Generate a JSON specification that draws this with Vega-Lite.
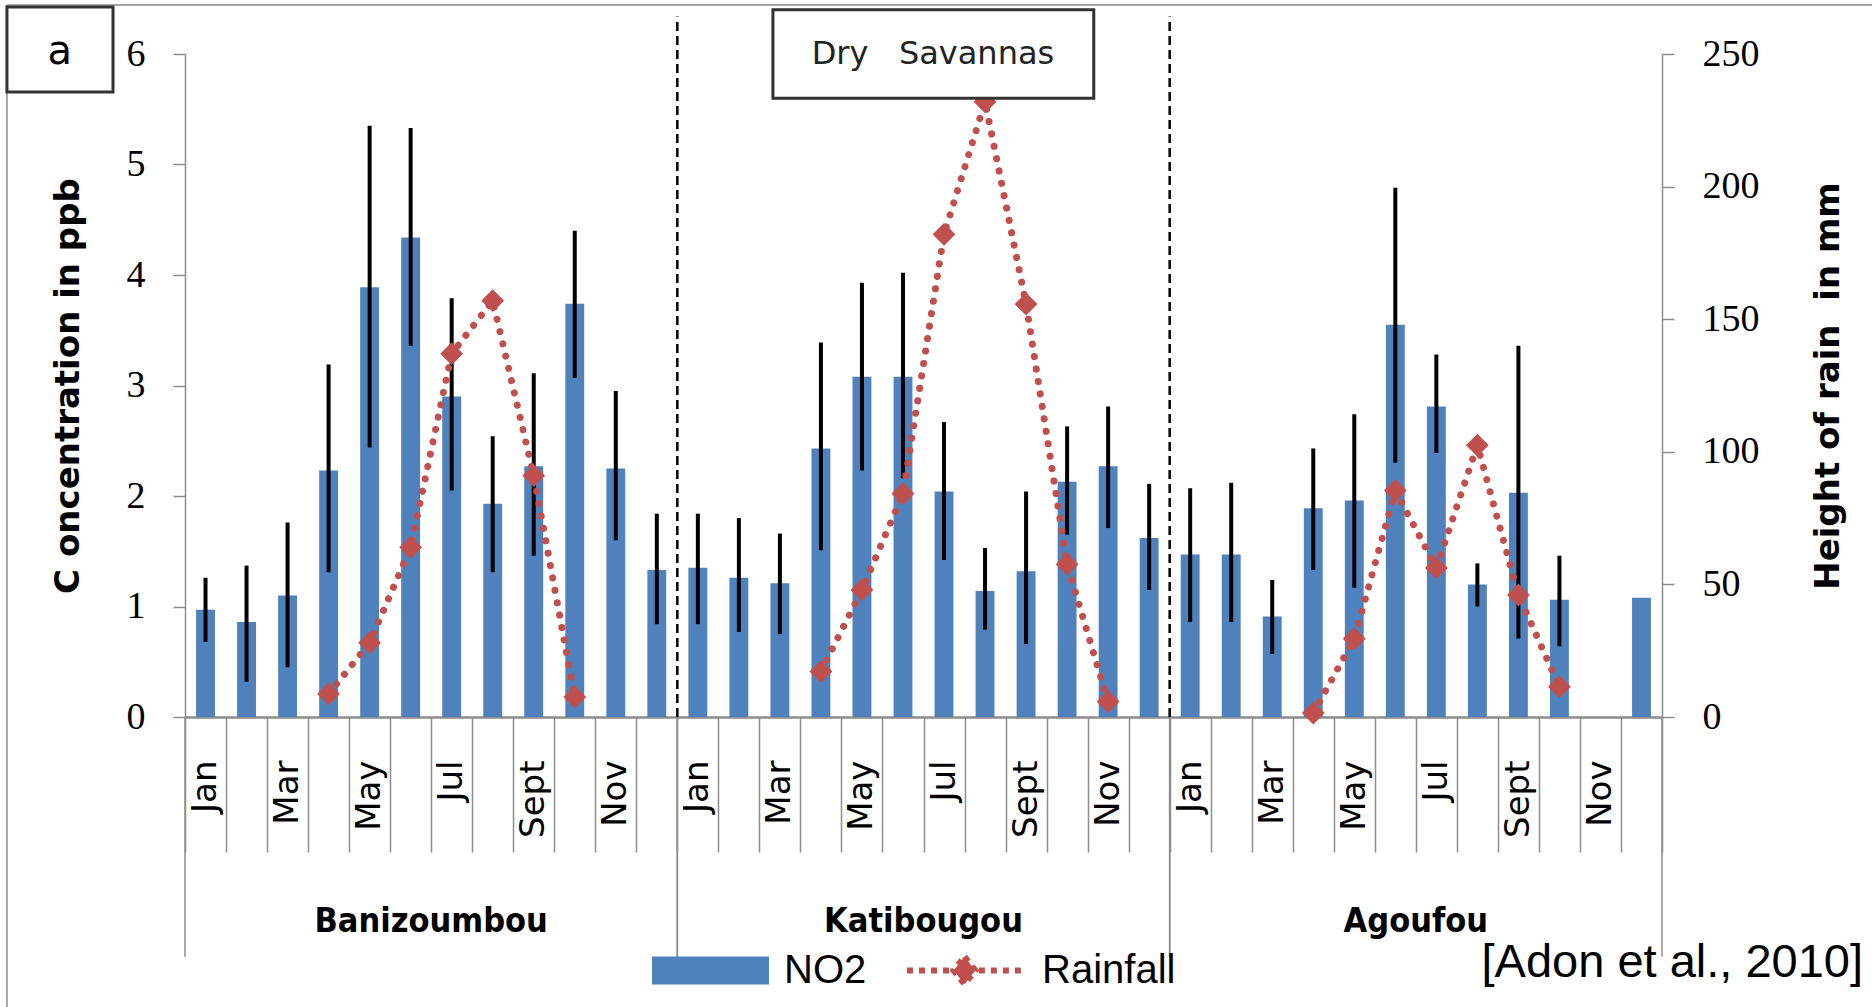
{
  "$schema": "https://vega.github.io/schema/vega-lite/v6.json",
  "width": 1477,
  "height": 663,
  "autosize": {"type": "none"},
  "padding": {"left": 185, "right": 210, "top": 54, "bottom": 290},
  "background": "white",
  "config": {"view": {"stroke": null}, "axis": {"grid": false}},
  "datasets": {
    "obs": [
      {"site": "Banizoumbou", "month": "Jan", "id": "Banizoumbou|Jan", "no2": 0.97, "lo": 0.68, "hi": 1.26, "rain": null},
      {"site": "Banizoumbou", "month": "Feb", "id": "Banizoumbou|Feb", "no2": 0.86, "lo": 0.32, "hi": 1.37, "rain": null},
      {"site": "Banizoumbou", "month": "Mar", "id": "Banizoumbou|Mar", "no2": 1.10, "lo": 0.45, "hi": 1.76, "rain": null},
      {"site": "Banizoumbou", "month": "Apr", "id": "Banizoumbou|Apr", "no2": 2.23, "lo": 1.31, "hi": 3.19, "rain": 8.7},
      {"site": "Banizoumbou", "month": "May", "id": "Banizoumbou|May", "no2": 3.89, "lo": 2.44, "hi": 5.35, "rain": 28},
      {"site": "Banizoumbou", "month": "Jun", "id": "Banizoumbou|Jun", "no2": 4.34, "lo": 3.36, "hi": 5.33, "rain": 64},
      {"site": "Banizoumbou", "month": "Jul", "id": "Banizoumbou|Jul", "no2": 2.90, "lo": 2.05, "hi": 3.79, "rain": 137},
      {"site": "Banizoumbou", "month": "Aug", "id": "Banizoumbou|Aug", "no2": 1.93, "lo": 1.31, "hi": 2.54, "rain": 157},
      {"site": "Banizoumbou", "month": "Sept", "id": "Banizoumbou|Sept", "no2": 2.27, "lo": 1.46, "hi": 3.11, "rain": 91},
      {"site": "Banizoumbou", "month": "Oct", "id": "Banizoumbou|Oct", "no2": 3.74, "lo": 3.07, "hi": 4.40, "rain": 7.5},
      {"site": "Banizoumbou", "month": "Nov", "id": "Banizoumbou|Nov", "no2": 2.25, "lo": 1.60, "hi": 2.95, "rain": null},
      {"site": "Banizoumbou", "month": "Dec", "id": "Banizoumbou|Dec", "no2": 1.33, "lo": 0.84, "hi": 1.84, "rain": null},
      {"site": "Katibougou", "month": "Jan", "id": "Katibougou|Jan", "no2": 1.35, "lo": 0.84, "hi": 1.84, "rain": null},
      {"site": "Katibougou", "month": "Feb", "id": "Katibougou|Feb", "no2": 1.26, "lo": 0.77, "hi": 1.80, "rain": null},
      {"site": "Katibougou", "month": "Mar", "id": "Katibougou|Mar", "no2": 1.21, "lo": 0.75, "hi": 1.66, "rain": null},
      {"site": "Katibougou", "month": "Apr", "id": "Katibougou|Apr", "no2": 2.43, "lo": 1.51, "hi": 3.39, "rain": 17.2},
      {"site": "Katibougou", "month": "May", "id": "Katibougou|May", "no2": 3.08, "lo": 2.23, "hi": 3.93, "rain": 47.9},
      {"site": "Katibougou", "month": "Jun", "id": "Katibougou|Jun", "no2": 3.08, "lo": 2.16, "hi": 4.02, "rain": 84.2},
      {"site": "Katibougou", "month": "Jul", "id": "Katibougou|Jul", "no2": 2.04, "lo": 1.42, "hi": 2.67, "rain": 182},
      {"site": "Katibougou", "month": "Aug", "id": "Katibougou|Aug", "no2": 1.14, "lo": 0.79, "hi": 1.53, "rain": 232},
      {"site": "Katibougou", "month": "Sept", "id": "Katibougou|Sept", "no2": 1.32, "lo": 0.66, "hi": 2.04, "rain": 155.7},
      {"site": "Katibougou", "month": "Oct", "id": "Katibougou|Oct", "no2": 2.13, "lo": 1.65, "hi": 2.63, "rain": 57.6},
      {"site": "Katibougou", "month": "Nov", "id": "Katibougou|Nov", "no2": 2.27, "lo": 1.71, "hi": 2.81, "rain": 5.8},
      {"site": "Katibougou", "month": "Dec", "id": "Katibougou|Dec", "no2": 1.62, "lo": 1.15, "hi": 2.11, "rain": null},
      {"site": "Agoufou", "month": "Jan", "id": "Agoufou|Jan", "no2": 1.47, "lo": 0.86, "hi": 2.07, "rain": null},
      {"site": "Agoufou", "month": "Feb", "id": "Agoufou|Feb", "no2": 1.47, "lo": 0.86, "hi": 2.12, "rain": null},
      {"site": "Agoufou", "month": "Mar", "id": "Agoufou|Mar", "no2": 0.91, "lo": 0.57, "hi": 1.24, "rain": null},
      {"site": "Agoufou", "month": "Apr", "id": "Agoufou|Apr", "no2": 1.89, "lo": 1.33, "hi": 2.43, "rain": 1.5},
      {"site": "Agoufou", "month": "May", "id": "Agoufou|May", "no2": 1.96, "lo": 1.17, "hi": 2.74, "rain": 29.5},
      {"site": "Agoufou", "month": "Jun", "id": "Agoufou|Jun", "no2": 3.55, "lo": 2.30, "hi": 4.79, "rain": 85.4},
      {"site": "Agoufou", "month": "Jul", "id": "Agoufou|Jul", "no2": 2.81, "lo": 2.39, "hi": 3.28, "rain": 56.2},
      {"site": "Agoufou", "month": "Aug", "id": "Agoufou|Aug", "no2": 1.20, "lo": 1.00, "hi": 1.39, "rain": 102.5},
      {"site": "Agoufou", "month": "Sept", "id": "Agoufou|Sept", "no2": 2.03, "lo": 0.71, "hi": 3.36, "rain": 46},
      {"site": "Agoufou", "month": "Oct", "id": "Agoufou|Oct", "no2": 1.06, "lo": 0.64, "hi": 1.46, "rain": 11.4},
      {"site": "Agoufou", "month": "Nov", "id": "Agoufou|Nov", "no2": null, "lo": null, "hi": null, "rain": null},
      {"site": "Agoufou", "month": "Dec", "id": "Agoufou|Dec", "no2": 1.08, "lo": null, "hi": null, "rain": null}
    ]
  },
  "layer": [
    {
      "data": {"name": "obs"},
      "layer": [
        {
          "mark": {"type": "bar", "width": {"band": 0.46}},
          "encoding": {
            "x": {
              "field": "id", "type": "nominal", "sort": null,
              "scale": {
                "domain": ["Banizoumbou|Jan","Banizoumbou|Feb","Banizoumbou|Mar","Banizoumbou|Apr","Banizoumbou|May","Banizoumbou|Jun","Banizoumbou|Jul","Banizoumbou|Aug","Banizoumbou|Sept","Banizoumbou|Oct","Banizoumbou|Nov","Banizoumbou|Dec",
                           "Katibougou|Jan","Katibougou|Feb","Katibougou|Mar","Katibougou|Apr","Katibougou|May","Katibougou|Jun","Katibougou|Jul","Katibougou|Aug","Katibougou|Sept","Katibougou|Oct","Katibougou|Nov","Katibougou|Dec",
                           "Agoufou|Jan","Agoufou|Feb","Agoufou|Mar","Agoufou|Apr","Agoufou|May","Agoufou|Jun","Agoufou|Jul","Agoufou|Aug","Agoufou|Sept","Agoufou|Oct","Agoufou|Nov","Agoufou|Dec"],
                "paddingInner": 0, "paddingOuter": 0
              },
              "axis": {
                "orient": "bottom",
                "title": null,
                "labelExpr": "indexof(['Jan','Mar','May','Jul','Sept','Nov'], split(datum.value,'|')[1]) >= 0 ? split(datum.value,'|')[1] : ''",
                "labelAngle": 270,
                "labelAlign": "right",
                "labelBaseline": "middle",
                "labelFont": "DejaVu Sans",
                "labelFontSize": 34,
                "labelColor": "black",
                "labelOverlap": false,
                "labelPadding": -92,
                "tickBand": "extent",
                "tickSize": 135,
                "tickColor": "#8c8c8c",
                "tickWidth": 1.5,
                "domainColor": "#8c8c8c",
                "domainWidth": 2.5
              }
            },
            "y": {
              "field": "no2", "type": "quantitative",
              "scale": {"domain": [0, 6], "nice": false},
              "axis": {
                "orient": "left",
                "title": "C oncentration in ppb",
                "titleFont": "DejaVu Sans",
                "titleFontWeight": "bold",
                "titleFontSize": 34,
                "titleColor": "black",
                "titleX": -117,
                "titleBaseline": "middle",
                "values": [0, 1, 2, 3, 4, 5, 6],
                "format": "d",
                "labelFont": "Liberation Serif",
                "labelFontSize": 38,
                "labelColor": "black",
                "labelPadding": 28,
                "tickSize": 12,
                "tickColor": "#8c8c8c",
                "tickWidth": 1.5,
                "domainColor": "#8c8c8c",
                "domainWidth": 1.5
              }
            },
            "fill": {
              "datum": "NO2",
              "scale": {"range": ["#4F81BD"]},
              "legend": {
                "orient": "none",
                "legendX": 467,
                "legendY": 858,
                "title": null,
                "padding": 0,
                "symbolType": "M-1,-0.24L1,-0.24L1,0.24L-1,0.24Z",
                "symbolSize": 13689,
                "symbolStrokeWidth": 0,
                "labelFont": "Liberation Sans",
                "labelFontSize": 40,
                "labelColor": "black",
                "labelOffset": 15
              }
            }
          }
        },
        {
          "mark": {"type": "rule", "color": "black", "strokeWidth": 4},
          "encoding": {
            "x": {"field": "id", "type": "nominal", "sort": null},
            "y": {"field": "lo", "type": "quantitative"},
            "y2": {"field": "hi"}
          }
        },
        {
          "transform": [{"filter": "datum.month == 'Jan' && datum.site != 'Banizoumbou'"}],
          "mark": {"type": "rule", "color": "black", "strokeWidth": 2.5, "strokeDash": [9, 5]},
          "encoding": {
            "x": {"field": "id", "type": "nominal", "sort": null, "bandPosition": 0},
            "y": {"datum": 0},
            "y2": {"datum": 6.34}
          }
        },
        {
          "transform": [{"filter": "datum.month == 'Jan'"}],
          "mark": {"type": "rule", "color": "#8c8c8c", "strokeWidth": 1.5},
          "encoding": {
            "x": {"field": "id", "type": "nominal", "sort": null, "bandPosition": 0},
            "y": {"datum": 0},
            "y2": {"datum": -2.17}
          }
        },
        {
          "transform": [{"filter": "datum.month == 'Dec'"}],
          "mark": {"type": "rule", "color": "#8c8c8c", "strokeWidth": 1.5},
          "encoding": {
            "x": {"field": "id", "type": "nominal", "sort": null, "bandPosition": 1},
            "y": {"datum": 0},
            "y2": {"datum": -2.17}
          }
        },
        {
          "transform": [{"filter": "datum.month == 'Jun'"}],
          "mark": {"type": "text", "font": "DejaVu Sans Condensed", "fontWeight": "bold", "fontSize": 34, "baseline": "alphabetic", "align": "center", "color": "black"},
          "encoding": {
            "x": {"field": "id", "type": "nominal", "sort": null, "bandPosition": 1},
            "y": {"datum": -1.946},
            "text": {"field": "site"}
          }
        }
      ]
    },
    {
      "data": {"name": "obs"},
      "layer": [
        {
          "mark": {"type": "line", "strokeWidth": 7, "strokeDash": [0.1, 12.5], "strokeCap": "round"},
          "encoding": {
            "x": {
              "field": "id", "type": "nominal", "sort": null,
              "scale": {
                "domain": ["Banizoumbou|Jan","Banizoumbou|Feb","Banizoumbou|Mar","Banizoumbou|Apr","Banizoumbou|May","Banizoumbou|Jun","Banizoumbou|Jul","Banizoumbou|Aug","Banizoumbou|Sept","Banizoumbou|Oct","Banizoumbou|Nov","Banizoumbou|Dec",
                           "Katibougou|Jan","Katibougou|Feb","Katibougou|Mar","Katibougou|Apr","Katibougou|May","Katibougou|Jun","Katibougou|Jul","Katibougou|Aug","Katibougou|Sept","Katibougou|Oct","Katibougou|Nov","Katibougou|Dec",
                           "Agoufou|Jan","Agoufou|Feb","Agoufou|Mar","Agoufou|Apr","Agoufou|May","Agoufou|Jun","Agoufou|Jul","Agoufou|Aug","Agoufou|Sept","Agoufou|Oct","Agoufou|Nov","Agoufou|Dec"],
                "paddingInner": 0, "paddingOuter": 0
              },
              "axis": null
            },
            "y": {
              "field": "rain", "type": "quantitative",
              "scale": {"domain": [0, 250], "nice": false},
              "axis": {
                "orient": "right",
                "title": "Height of rain\u00a0 in mm",
                "titleFont": "DejaVu Sans",
                "titleFontWeight": "bold",
                "titleFontSize": 34,
                "titleColor": "black",
                "titleAngle": 270,
                "titleX": 166,
                "titleBaseline": "middle",
                "values": [0, 50, 100, 150, 200, 250],
                "format": "d",
                "labelFont": "Liberation Serif",
                "labelFontSize": 38,
                "labelColor": "black",
                "labelPadding": 28,
                "tickSize": 12,
                "tickColor": "#8c8c8c",
                "tickWidth": 1.5,
                "domainColor": "#8c8c8c",
                "domainWidth": 1.5
              }
            },
            "detail": {"field": "site"},
            "stroke": {
              "datum": "Rainfall",
              "scale": {"range": ["#C0504D"]},
              "legend": {
                "orient": "none",
                "legendX": 719,
                "legendY": 856,
                "title": null,
                "padding": 0,
                "symbolType": "M-1,0L-0.25,0M0.25,0L1,0M0,-0.24L0.19,0L0,0.24L-0.19,0Z",
                "symbolSize": 13225,
                "symbolStrokeWidth": 6,
                "symbolDash": [6, 6],
                "symbolFillColor": "#C0504D",
                "labelFont": "Liberation Sans",
                "labelFontSize": 40,
                "labelColor": "black",
                "labelOffset": 17
              }
            }
          }
        },
        {
          "mark": {"type": "point", "shape": "diamond", "filled": true, "size": 520, "color": "#C0504D", "opacity": 1},
          "encoding": {
            "x": {"field": "id", "type": "nominal", "sort": null},
            "y": {"field": "rain", "type": "quantitative"}
          }
        }
      ]
    },
    {
      "layer": [
        {
          "data": {"values": [{"part": "frame"}]},
          "mark": {"type": "rule", "color": "#a6a6a6", "strokeWidth": 2},
          "encoding": {
            "x": {"datum": -4.34, "type": "quantitative", "scale": {"domain": [0, 36], "nice": false, "zero": false}, "axis": null},
            "x2": {"datum": 41.2},
            "y": {"datum": 6.443, "type": "quantitative", "scale": {"domain": [0, 6], "nice": false, "zero": false}, "axis": null}
          }
        },
        {
          "data": {"values": [{"part": "frame"}]},
          "mark": {"type": "rule", "color": "#a6a6a6", "strokeWidth": 2},
          "encoding": {
            "x": {"datum": -4.34, "type": "quantitative"},
            "y": {"datum": 6.443, "type": "quantitative"},
            "y2": {"datum": -2.7}
          }
        },
        {
          "data": {"values": [{"label": "a"}]},
          "mark": {"type": "rect", "fill": "white", "stroke": "#333333", "strokeWidth": 3},
          "encoding": {
            "x": {"datum": -4.34, "type": "quantitative"},
            "x2": {"datum": -1.755},
            "y": {"datum": 6.425, "type": "quantitative"},
            "y2": {"datum": 5.656}
          }
        },
        {
          "data": {"values": [{"label": "a"}]},
          "mark": {"type": "text", "font": "DejaVu Sans", "fontSize": 40, "align": "center", "baseline": "middle", "color": "black"},
          "encoding": {
            "x": {"datum": -3.05, "type": "quantitative"},
            "y": {"datum": 6.02, "type": "quantitative"},
            "text": {"field": "label"}
          }
        },
        {
          "data": {"values": [{"label": "Dry\u00a0\u00a0\u00a0Savannas"}]},
          "mark": {"type": "rect", "fill": "white", "stroke": "#333333", "strokeWidth": 3},
          "encoding": {
            "x": {"datum": 14.33, "type": "quantitative"},
            "x2": {"datum": 22.15},
            "y": {"datum": 6.40, "type": "quantitative"},
            "y2": {"datum": 5.60}
          }
        },
        {
          "data": {"values": [{"label": "Dry\u00a0\u00a0\u00a0Savannas"}]},
          "mark": {"type": "text", "font": "DejaVu Sans", "fontSize": 32, "align": "center", "baseline": "middle", "color": "#222222"},
          "encoding": {
            "x": {"datum": 18.23, "type": "quantitative"},
            "y": {"datum": 6.0, "type": "quantitative"},
            "text": {"field": "label"}
          }
        },
        {
          "data": {"values": [{"label": "[Adon et al., 2010]"}]},
          "mark": {"type": "text", "font": "Liberation Sans", "fontSize": 47, "align": "right", "baseline": "alphabetic", "color": "black"},
          "encoding": {
            "x": {"datum": 40.9, "type": "quantitative"},
            "y": {"datum": -2.353, "type": "quantitative"},
            "text": {"field": "label"}
          }
        }
      ]
    }
  ],
  "resolve": {"scale": {"x": "independent", "y": "independent"}}
}
